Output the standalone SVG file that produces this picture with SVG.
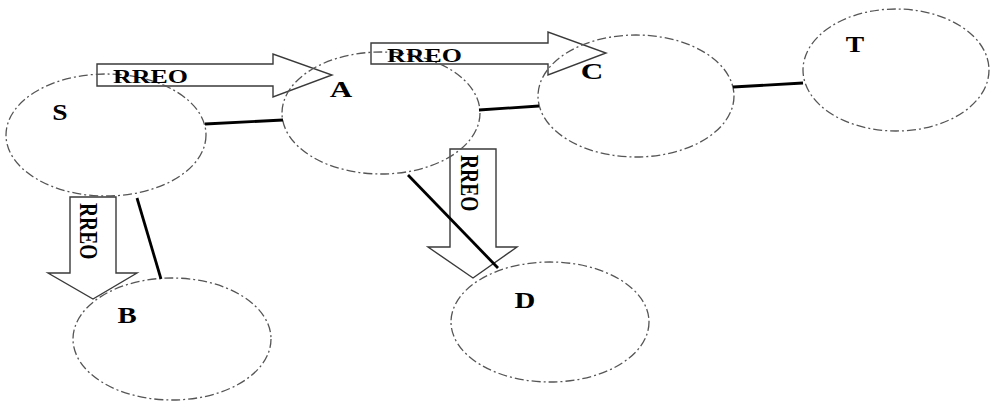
<svg xmlns="http://www.w3.org/2000/svg" width="992" height="403" viewBox="0 0 992 403">
  <style>
    .node { fill: none; stroke: #555; stroke-width: 1.3; stroke-dasharray: 9 3 2 3; }
    .label { font-family: "Liberation Serif", "Times New Roman", serif; font-weight: bold; font-size: 24px; fill: #000; text-anchor: middle; }
    .edge { stroke: #000; stroke-width: 2.8; fill: none; }
    .flow { fill: #fff; stroke: #3a3a3a; stroke-width: 1.4; stroke-linejoin: miter; }
    .flow-text { font-family: "Liberation Serif", "Times New Roman", serif; font-weight: bold; font-size: 19.5px; fill: #000; }
  </style>
  <rect width="992" height="403" fill="#fff"/>

  <!-- RREO flow arrows -->
  <g id="flows">
    <polygon class="flow" points="97,64 273,64 273,54 332,75 273,97 273,86 97,86"/>
    <polygon class="flow" points="371,43 548,43 548,32 606,53 548,75 548,64 371,64"/>
    <polygon class="flow" points="70,197 116,197 116,273 137,273 93,299 48,273 70,273"/>
    <polygon class="flow" points="450,149 496,149 496,247 517,247 473,278 428,247 450,247"/>
  </g>

  <!-- nodes -->
  <g id="node-S">
    <ellipse class="node" cx="106" cy="135" rx="100" ry="61"/>
    <text class="label" transform="translate(60,120) scale(1.15,1)">S</text>
  </g>
  <g id="node-A">
    <ellipse class="node" cx="381" cy="113" rx="99" ry="61"/>
    <text class="label" transform="translate(341,97) scale(1.3,1)">A</text>
  </g>
  <g id="node-C">
    <ellipse class="node" cx="636" cy="96" rx="98" ry="61"/>
    <text class="label" transform="translate(592,79) scale(1.3,1)">C</text>
  </g>
  <g id="node-T">
    <ellipse class="node" cx="896" cy="70" rx="93" ry="61"/>
    <text class="label" transform="translate(855,52) scale(1.15,1)">T</text>
  </g>
  <g id="node-B">
    <ellipse class="node" cx="172" cy="339" rx="99" ry="61"/>
    <text class="label" transform="translate(127,323) scale(1.2,1)">B</text>
  </g>
  <g id="node-D">
    <ellipse class="node" cx="550" cy="322" rx="99" ry="60"/>
    <text class="label" transform="translate(525,308) scale(1.2,1)">D</text>
  </g>

  <!-- links -->
  <g id="connectors">
    <line class="edge" x1="205" y1="124" x2="283" y2="120"/>
    <line class="edge" x1="479" y1="110" x2="539" y2="106"/>
    <line class="edge" x1="733" y1="87" x2="803" y2="83"/>
    <line class="edge" x1="137" y1="198" x2="161" y2="279"/>
    <line class="edge" x1="408" y1="175" x2="498" y2="268"/>
  </g>

  <!-- flow labels -->
  <g id="flow-labels">
    <text class="flow-text" transform="translate(113,83) scale(1.33,1)">RREO</text>
    <text class="flow-text" transform="translate(387,62) scale(1.33,1)">RREO</text>
    <text class="flow-text" transform="translate(80,203) scale(1.3,1) rotate(90)">RREO</text>
    <text class="flow-text" transform="translate(461,155) scale(1.3,1) rotate(90)">RREO</text>
  </g>
</svg>
